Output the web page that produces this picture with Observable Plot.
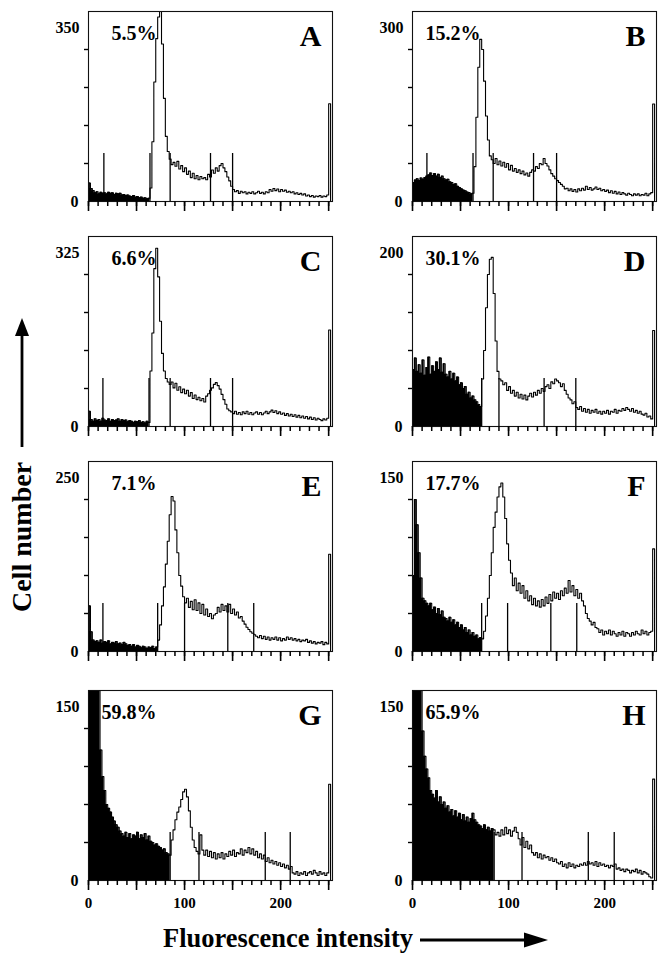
<!DOCTYPE html>
<html>
<head>
<meta charset="utf-8">
<script src="https://cdn.jsdelivr.net/npm/d3@7"></script>
<script src="https://cdn.jsdelivr.net/npm/@observablehq/plot@0.6"></script>
<style>
  body { margin: 0; background: #fff; }
  #fig { position: relative; width: 671px; height: 960px; background: #fff; overflow: hidden; }
  .panel { position: absolute; }
  #overlay { position: absolute; left: 0; top: 0; pointer-events: none; }
</style>
</head>
<body>
<div id="fig"></div>
<script>
// ---------- data ----------
const panelLetters = ["A", "B", "C", "D", "E", "F", "G", "H"];
const percentLabels = ["5.5%", "15.2%", "6.6%", "30.1%", "7.1%", "17.7%", "59.8%", "65.9%"];
const yMaxima = [350, 300, 325, 200, 250, 150, 150, 150];
const xTickLabels = [0, 100, 200];
const binWidth = 2; // channels per bin

// gate marker positions (fluorescence channel) for each panel
const markersA = [16, 64, 85, 127, 150];
const markersB = [15, 63, 84, 126, 150];
const markersC = [15, 63, 85, 127, 150];
const markersD = [16, 72, 90, 137, 170];
const markersE = [15, 72, 100, 145, 172];
const markersF = [15, 72, 99, 144, 171];
const markersG = [15, 85, 115, 184, 210];
const markersH = [15, 85, 114, 183, 210];

// cell counts in 2-channel bins (channel 0 .. 252)
const countsA = [
  34, 24, 20, 16, 18, 14, 17, 15, 16, 14, 17, 15, 16, 13, 15, 14,
  15, 12, 13, 11, 12, 10, 9, 11, 8, 9, 7, 8, 6, 7, 5, 6,
  25, 110, 220, 300, 340, 365, 290, 190, 120, 92, 78, 68, 72, 65, 74, 60,
  66, 55, 62, 50, 56, 44, 52, 42, 48, 40, 46, 42, 44, 40, 50, 45,
  58, 52, 62, 56, 66, 70, 62, 55, 45, 38, 28, 22, 18, 20, 15, 19,
  16, 18, 14, 17, 15, 18, 14, 16, 19, 15, 17, 14, 18, 16, 22, 19,
  24, 20, 23, 18, 22, 19, 21, 17, 19, 16, 18, 14, 16, 13, 15, 12,
  14, 10, 12, 9, 11, 8, 10, 9, 11, 8, 10, 9, 12, 180
];
const countsB = [
  30, 34, 36, 33, 37, 35, 38, 40, 42, 45, 41, 44, 40, 43, 38, 40,
  36, 34, 35, 31, 30, 27, 28, 24, 22, 20, 18, 17, 15, 14, 12, 13,
  55, 133, 212, 256, 240, 190, 135, 97, 72, 66, 60, 68, 58, 64, 56, 62,
  54, 60, 50, 57, 48, 52, 46, 50, 44, 48, 42, 45, 40, 46, 50, 48,
  55, 52, 60, 58, 68, 60, 56, 50, 44, 40, 36, 33, 30, 27, 24, 20,
  21, 17, 20, 16, 19, 15, 20, 17, 21, 18, 24, 19, 22, 18, 20, 23,
  19, 21, 17, 19, 16, 18, 14, 17, 13, 16, 12, 15, 11, 14, 12, 10,
  13, 11, 9, 12, 10, 12, 9, 11, 10, 13, 9, 12, 14, 154
];
const countsC = [
  26, 12, 9, 13, 10, 12, 9, 14, 11, 10, 13, 9, 12, 10, 11, 13,
  9, 12, 10, 11, 8, 10, 9, 7, 9, 8, 10, 7, 8, 6, 9, 7,
  95, 160, 270, 305, 256, 180, 125, 95, 82, 76, 72, 76, 66, 74, 62, 68,
  58, 64, 56, 62, 52, 58, 48, 54, 46, 50, 44, 48, 42, 52, 56, 62,
  66, 72, 75, 70, 64, 55, 46, 38, 30, 27, 25, 22, 26, 21, 24, 20,
  25, 22, 26, 21, 24, 20, 23, 25, 21, 24, 20, 23, 26, 22, 25, 28,
  24, 27, 22, 25, 21, 23, 19, 22, 18, 21, 17, 20, 16, 19, 15, 18,
  14, 17, 13, 16, 12, 15, 11, 14, 12, 10, 13, 11, 14, 165
];
const countsD = [
  60, 72, 58, 65, 56, 70, 54, 62, 73, 55, 64, 58, 68, 60, 72, 57,
  66, 55, 52, 58, 50, 56, 48, 52, 44, 46, 40, 42, 34, 36, 30, 32,
  28, 26, 23, 21, 50, 80, 125, 160, 176, 178, 140, 90, 58, 50, 48, 44,
  46, 38, 42, 35, 38, 32, 36, 30, 34, 29, 33, 28, 32, 35, 31, 36,
  33, 38, 35, 40, 37, 42, 44, 40, 47, 45, 50, 48, 46, 42, 45, 38,
  34, 30, 28, 24, 26, 20, 18, 21, 16, 19, 15, 18, 14, 17, 15, 18,
  14, 16, 13, 16, 14, 17, 13, 16, 15, 18, 14, 17, 16, 19, 17, 20,
  18, 16, 19, 15, 17, 14, 16, 13, 12, 14, 10, 11, 8, 101
];
const countsE = [
  60, 26, 15, 13, 14, 12, 15, 11, 13, 12, 14, 10, 12, 11, 13, 10,
  11, 9, 12, 10, 8, 9, 7, 9, 6, 8, 7, 5, 7, 6, 4, 6,
  5, 7, 4, 6, 15, 35, 60, 85, 115, 145, 180, 204, 198, 160, 130, 100,
  86, 72, 64, 70, 58, 66, 55, 68, 54, 64, 50, 62, 48, 56, 46, 50,
  43, 48, 50, 58, 52, 62, 54, 60, 52, 62, 50, 56, 48, 52, 44, 46,
  40, 36, 32, 29, 26, 24, 22, 20, 18, 21, 17, 20, 16, 19, 15, 18,
  16, 19, 15, 18, 14, 17, 15, 19, 16, 18, 15, 17, 14, 16, 13, 15,
  14, 16, 12, 14, 11, 13, 10, 12, 11, 13, 9, 12, 10, 128
];
const countsF = [
  60, 120, 100, 78, 58, 42, 40, 38, 36, 38, 33, 35, 30, 34, 29, 32,
  27, 26, 24, 27, 23, 25, 21, 23, 19, 21, 17, 19, 15, 17, 13, 15,
  12, 13, 10, 11, 10, 16, 28, 42, 60, 78, 98, 110, 122, 130, 133, 122,
  105, 85, 72, 62, 52, 58, 48, 54, 46, 52, 42, 48, 40, 44, 37, 42,
  36, 40, 35, 41, 36, 43, 38, 45, 40, 47, 42, 46, 41, 48, 44, 50,
  46, 56, 47, 52, 44, 49, 42, 46, 40, 36, 30, 26, 24, 21, 23, 19,
  18, 15, 17, 13, 16, 14, 17, 13, 16, 14, 12, 15, 13, 16, 12, 15,
  14, 12, 15, 13, 16, 14, 13, 17, 14, 16, 13, 15, 16, 81
];
const countsG = [
  380, 300, 260, 220, 190, 165, 103, 82, 71, 60, 57, 54, 50, 47, 44, 42,
  39, 37, 35, 38, 34, 37, 33, 36, 35, 38, 33, 36, 34, 37, 32, 35,
  31, 30, 28, 29, 27, 26, 24, 25, 22, 21, 20, 32, 40, 48, 54, 58,
  64, 70, 72, 66, 55, 42, 32, 26, 23, 21, 36, 24, 20, 24, 19, 23,
  18, 22, 17, 21, 18, 22, 17, 21, 19, 23, 20, 24, 19, 22, 21, 25,
  20, 24, 22, 26, 21, 25, 20, 23, 18, 21, 17, 20, 15, 18, 14, 16,
  13, 15, 12, 14, 11, 13, 10, 12, 9, 11, 6, 5, 7, 4, 6, 5,
  7, 4, 6, 7, 5, 8, 6, 4, 7, 5, 6, 4, 6, 76
];
const countsH = [
  400, 320, 260, 220, 180, 118, 98, 88, 81, 71, 68, 65, 71, 62, 66, 60,
  62, 57, 59, 54, 56, 51, 55, 50, 53, 48, 52, 47, 50, 46, 49, 53,
  48, 46, 44, 43, 41, 44, 40, 42, 39, 41, 40, 36, 38, 35, 40, 36,
  42, 37, 40, 35, 39, 42, 38, 33, 28, 34, 26, 31, 25, 28, 22, 20,
  22, 18, 21, 17, 20, 18, 19, 16, 18, 15, 17, 14, 13, 15, 11, 13,
  10, 14, 11, 13, 10, 12, 11, 13, 12, 14, 12, 15, 13, 14, 12, 15,
  11, 14, 12, 13, 11, 12, 10, 12, 11, 13, 9, 10, 8, 9, 7, 9,
  8, 6, 8, 7, 9, 6, 8, 5, 7, 6, 5, 3, 2, 80
];

const allCounts = [countsA, countsB, countsC, countsD, countsE, countsF, countsG, countsH];
const allMarkers = [markersA, markersB, markersC, markersD, markersE, markersF, markersG, markersH];

// ---------- layout / style ----------
const FONT = "'Liberation Serif', 'Times New Roman', Times, serif";
const frameW = 244, frameH = 190;
const mL = 44, mR = 6, mT = 4;
const colLeft = [88, 412];
const rowTop = [11, 236, 461, 690];
const markerFrac = 48 / 190;
const xDomain = [0, 254];
const minorTicks = d3.range(0, 251, 10);
const majorTicks = d3.range(0, 251, 50);

const fig = document.getElementById("fig");

allCounts.forEach((counts, i) => {
  const bottom = i >= 6;
  const max = yMaxima[i];
  const markers = allMarkers[i];
  const gate = markers[1];
  const rows = counts.map((v, k) => ({x: k * binWidth, y: v}));
  const lineRows = [...rows, {x: counts.length * binWidth, y: 0}];
  const fillRows = [...rows.filter(d => d.x < gate), {x: gate, y: 0}];
  const yTicks = [1, 2, 3, 4].map(k => (k * max) / 5);
  const mB = bottom ? 34 : 14;

  const marks = [
    Plot.areaY(fillRows, {x: "x", y: "y", curve: "step-after", fill: "#000"}),
    Plot.lineY(lineRows, {x: "x", y: "y", curve: "step-after", stroke: "#000", strokeWidth: 1.1}),
    Plot.ruleX(markers, {x: d => d, y1: 0, y2: max * markerFrac, stroke: "#000", strokeWidth: 1.3}),
    Plot.frame({stroke: "#111", strokeWidth: 1.1}),
    // x tick comb below the frame (minor every 10, major every 50)
    Plot.ruleX(minorTicks, {x: d => d, insetTop: frameH, insetBottom: -5, stroke: "#000", strokeWidth: 1.5}),
    Plot.ruleX(majorTicks, {x: d => d, insetTop: frameH, insetBottom: -10, stroke: "#000", strokeWidth: 1.6}),
    Plot.axisY({ticks: yTicks, tickSize: 4, tickFormat: () => "", label: null, strokeWidth: 1.4}),
    Plot.text(["0"], {text: d => d, frameAnchor: "bottom-left", dx: -10, textAnchor: "end", lineAnchor: "middle", fontSize: 16, fontWeight: "bold"}),
    Plot.text([String(max)], {text: d => d, frameAnchor: "top-left", dx: -9, dy: 16, textAnchor: "end", lineAnchor: "middle", fontSize: 16, fontWeight: "bold"}),
    Plot.text([percentLabels[i]], {text: d => d, frameAnchor: "top-left", dx: 68, dy: 22, textAnchor: "end", lineAnchor: "middle", fontSize: 20, fontWeight: "bold"}),
    Plot.text([panelLetters[i]], {text: d => d, frameAnchor: "top-right", dx: -11, dy: 25, textAnchor: "end", lineAnchor: "middle", fontSize: 30, fontWeight: "bold"}),
    Plot.axisX({ticks: bottom ? xTickLabels : [], tickSize: 0, tickPadding: 17, label: null, fontSize: 15, fontWeight: "bold"})
  ];

  const chart = Plot.plot({
    width: mL + frameW + mR,
    height: mT + frameH + mB,
    marginLeft: mL, marginRight: mR, marginTop: mT, marginBottom: mB,
    x: {domain: xDomain},
    y: {domain: [0, max], clamp: true},
    style: {fontFamily: FONT, fontWeight: "bold", fontSize: "15px", color: "#000", background: "transparent", overflow: "visible"},
    marks
  });
  chart.classList.add("panel");
  chart.style.left = (colLeft[i % 2] - mL) + "px";
  chart.style.top = (rowTop[Math.floor(i / 2)] - mT) + "px";
  fig.appendChild(chart);
});

// axis titles with arrows
const ov = d3.select(fig).append("svg")
  .attr("id", "overlay").attr("width", 671).attr("height", 960);

ov.append("text")
  .attr("transform", "translate(31,537) rotate(-90)")
  .attr("text-anchor", "middle")
  .attr("font-family", FONT).attr("font-weight", "bold").attr("font-size", 28)
  .text("Cell number");
ov.append("line").attr("x1", 22).attr("x2", 22).attr("y1", 447).attr("y2", 330)
  .attr("stroke", "#000").attr("stroke-width", 2.8);
ov.append("path").attr("d", "M22,318 L15,336 L29,336 Z").attr("fill", "#000");

ov.append("text")
  .attr("x", 163).attr("y", 947)
  .attr("font-family", FONT).attr("font-weight", "bold").attr("font-size", 28)
  .attr("textLength", 250).attr("lengthAdjust", "spacingAndGlyphs")
  .text("Fluorescence intensity");
ov.append("line").attr("x1", 420).attr("x2", 530).attr("y1", 940).attr("y2", 940)
  .attr("stroke", "#000").attr("stroke-width", 2.8);
ov.append("path").attr("d", "M548,940 L524,932.5 L524,947.5 Z").attr("fill", "#000");
</script>
</body>
</html>
